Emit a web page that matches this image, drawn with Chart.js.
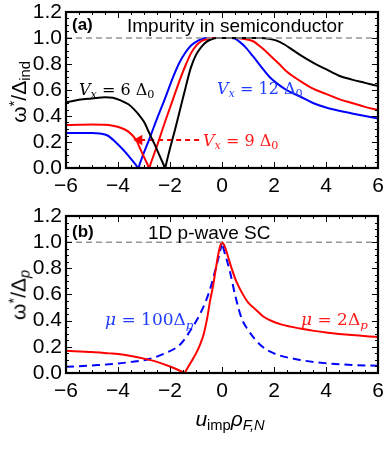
<!DOCTYPE html>
<html>
<head>
<meta charset="utf-8">
<script src="https://cdn.jsdelivr.net/npm/chart.js@4.4.0/dist/chart.umd.min.js"></script>
<style>
html, body { margin: 0; padding: 0; background: #fff; }
#wrap { position: relative; width: 388px; height: 449px; font-family: 'Liberation Sans', Arial, sans-serif; color: #000; }
.box { position: absolute; left: 0; width: 388px; }
.t { position: absolute; white-space: nowrap; line-height: 1; }
.m { font-family: 'DejaVu Serif', 'Liberation Serif', serif; }
sub { font-size: 0.7em; vertical-align: -0.3em; line-height: 0; }
sup { font-size: 0.7em; vertical-align: 0.45em; line-height: 0; }
.rot { transform: translate(-50%, -50%) rotate(-90deg); }
.ctr { transform: translate(-50%, -50%); }
</style>
</head>
<body>
<div id="wrap">
  <div class="box" style="top:0;height:200px"><canvas id="chartA"></canvas></div>
  <div class="box" style="top:204px;height:245px"><canvas id="chartB"></canvas></div>

  <!-- panel (a) texts -->
  <div class="t" style="left:72px;top:16px;font-size:17px;font-weight:bold">(a)</div>
  <div class="t" style="left:127px;top:16px;font-size:19px">Impurity in semiconductor</div>
  <div class="t m" style="left:79px;top:82px;font-size:16px;color:#000"><i>V<sub>x</sub></i> = 6 Δ<sub>0</sub></div>
  <div class="t m" style="left:217px;top:81px;font-size:16px;color:#1f3dff"><i>V<sub>x</sub></i> = 12 Δ<sub>0</sub></div>
  <div class="t m" style="left:203px;top:133px;font-size:16px;color:#ff1a1a"><i>V<sub>x</sub></i> = 9 Δ<sub>0</sub></div>
  <div class="t rot" style="left:18px;top:92px;font-size:21px">ω<sup>*</sup>/Δ<sub>ind</sub></div>

  <!-- panel (b) texts -->
  <div class="t" style="left:72px;top:223px;font-size:17px;font-weight:bold">(b)</div>
  <div class="t" style="left:148px;top:223px;font-size:19px">1D p-wave SC</div>
  <div class="t m" style="left:105px;top:311px;font-size:17px;color:#1f3dff"><i>μ</i> = 100Δ<sub><i>p</i></sub></div>
  <div class="t m" style="left:301px;top:311px;font-size:17px;color:#ff1a1a"><i>μ</i> = 2Δ<sub><i>p</i></sub></div>
  <div class="t rot" style="left:18px;top:295px;font-size:21px">ω<sup>*</sup>/Δ<sub><i>p</i></sub></div>
  <div class="t ctr" style="left:230px;top:418px;font-size:21px"><i>u</i><sub>imp</sub><i>ρ</i><sub><i>F,N</i></sub></div>
</div>

<script>
// axis ticks
var xTicks = [-6, -4, -2, 0, 2, 4, 6];
var yTicks = [0, 0.2, 0.4, 0.6, 0.8, 1.0, 1.2];

// (a) impurity in semiconductor, Vx = 6, 9, 12 Delta_0
var vx6X  = [-6, -5.5, -5, -4.5, -4.2, -3.9, -3.6, -3.4, -3.2, -3.0, -2.8, -2.6, -2.4, -2.25, -2.19, -2.13, -2.0, -1.8, -1.6, -1.4, -1.2, -1.0, -0.8, -0.6, -0.4, -0.2, 0, 0.5, 1.0, 1.5, 1.8, 2.1, 2.4, 2.7, 3.0, 3.5, 4.0, 4.5, 5.0, 5.5, 6.0];
var vx6Y  = [0.505, 0.525, 0.535, 0.544, 0.54, 0.52, 0.49, 0.455, 0.41, 0.355, 0.27, 0.185, 0.095, 0.027, 0, 0.047, 0.15, 0.3, 0.46, 0.62, 0.77, 0.87, 0.93, 0.97, 0.99, 1.0, 1.0, 1.0, 1.0, 1.0, 0.995, 0.98, 0.95, 0.91, 0.87, 0.81, 0.76, 0.71, 0.68, 0.655, 0.63];

var vx9X  = [-6, -5.5, -5, -4.5, -4.2, -3.9, -3.6, -3.3, -3.15, -3.0, -2.86, -2.8, -2.74, -2.5, -2.2, -1.9, -1.6, -1.38, -1.2, -1.0, -0.8, -0.6, -0.4, 0, 0.5, 0.8, 1.2, 1.5, 1.83, 2.2, 2.5, 3.0, 3.5, 4.0, 4.5, 5.0, 5.5, 6.0];
var vx9Y  = [0.33, 0.333, 0.335, 0.333, 0.325, 0.31, 0.28, 0.215, 0.15, 0.085, 0.025, 0, 0.035, 0.17, 0.35, 0.52, 0.69, 0.8, 0.88, 0.94, 0.975, 0.99, 1.0, 1.0, 1.0, 0.995, 0.975, 0.93, 0.87, 0.8, 0.74, 0.67, 0.61, 0.57, 0.53, 0.5, 0.47, 0.445];

var vx12X = [-6, -5.5, -5, -4.7, -4.4, -4.1, -3.8, -3.57, -3.4, -3.28, -3.22, -3.16, -3.0, -2.8, -2.5, -2.2, -1.9, -1.64, -1.4, -1.2, -1.0, -0.8, -0.6, 0, 0.35, 0.5, 0.68, 0.9, 1.19, 1.5, 1.83, 2.15, 2.48, 3.0, 3.5, 4.0, 4.5, 5.0, 5.5, 6.0];
var vx12Y = [0.27, 0.27, 0.27, 0.265, 0.25, 0.2, 0.14, 0.087, 0.045, 0.015, 0, 0.033, 0.12, 0.22, 0.38, 0.53, 0.69, 0.81, 0.89, 0.94, 0.97, 0.99, 1.0, 1.0, 1.0, 0.995, 0.97, 0.93, 0.86, 0.78, 0.7, 0.645, 0.6, 0.55, 0.5, 0.465, 0.44, 0.42, 0.4, 0.38];

// red dashed arrow pointing to the Vx = 9 curve
var arrowX = [-0.88, -3.18];
var arrowY = [0.215, 0.215];

// (b) 1D p-wave SC, mu = 2 and 100 Delta_p
var mu2X   = [-6, -5, -4.33, -4, -3.5, -3, -2.5, -2.0, -1.7, -1.5, -1.44, -1.38, -1.2, -1.0, -0.86, -0.7, -0.55, -0.47, -0.35, -0.25, -0.15, -0.07, 0, 0.1, 0.2, 0.37, 0.55, 0.75, 1.0, 1.27, 1.6, 2.0, 2.3, 3.0, 3.6, 4.0, 5.0, 6.0];
var mu2Y   = [0.17, 0.16, 0.15, 0.145, 0.13, 0.11, 0.085, 0.05, 0.025, 0.006, 0, 0.02, 0.08, 0.15, 0.21, 0.3, 0.44, 0.54, 0.66, 0.78, 0.9, 0.97, 1.0, 0.97, 0.91, 0.8, 0.7, 0.62, 0.54, 0.49, 0.43, 0.39, 0.37, 0.34, 0.32, 0.31, 0.29, 0.275];

var mu100X = [-6, -5, -4, -3.5, -2.8, -2.2, -1.6, -1.2, -0.9, -0.6, -0.4, -0.2, -0.1, -0.04, 0, 0.04, 0.1, 0.3, 0.5, 0.75, 1.0, 1.5, 2.0, 3.0, 4.0, 5.0, 6.0];
var mu100Y = [0.047, 0.058, 0.072, 0.085, 0.107, 0.15, 0.22, 0.33, 0.43, 0.56, 0.68, 0.83, 0.91, 0.96, 1.0, 0.965, 0.92, 0.78, 0.6, 0.42, 0.33, 0.21, 0.15, 0.1, 0.075, 0.062, 0.055];

var refX = [-6, 6];
var refY = [1, 1];

var RED = 'rgb(255,0,0)';
var BLUE = 'rgb(0,0,255)';
var GRAY = 'rgb(150,150,150)';

function pts(xs, ys) {
    return xs.map(function (x, i) { return { x: x, y: ys[i] }; });
}

// box frame with inward ticks on all four sides
var frame = {
    id: 'frame',
    afterDatasetsDraw: function (chart) {
        var ctx = chart.ctx, a = chart.chartArea;
        var xs = chart.scales.x, ys = chart.scales.y;
        ctx.save();
        ctx.strokeStyle = '#000';
        ctx.lineWidth = 1;
        ctx.beginPath();
        for (var v = -6; v <= 6.0001; v += 0.5) {
            var px = Math.round(xs.getPixelForValue(v)) + 0.5;
            var len = xTicks.indexOf(Math.round(v * 10) / 10) >= 0 ? 6 : 3;
            ctx.moveTo(px, a.bottom); ctx.lineTo(px, a.bottom - len);
            ctx.moveTo(px, a.top); ctx.lineTo(px, a.top + len);
        }
        for (var k = 0; k <= 24; k++) {
            var py = Math.round(ys.getPixelForValue(k * 0.05)) + 0.5;
            var l2 = (k % 4 === 0) ? 6 : 3;
            ctx.moveTo(a.left, py); ctx.lineTo(a.left + l2, py);
            ctx.moveTo(a.right, py); ctx.lineTo(a.right - l2, py);
        }
        ctx.stroke();
        ctx.lineWidth = 2.2;
        ctx.strokeRect(a.left, a.top, a.right - a.left, a.bottom - a.top);
        ctx.restore();
    }
};

function makeChart(id, datasets, xAxisHeight) {
    return new Chart(document.getElementById(id), {
        type: 'line',
        data: { datasets: datasets },
        options: {
            responsive: true,
            maintainAspectRatio: false,
            animation: false,
            layout: { padding: { top: 12, right: 10, left: 0, bottom: 0 } },
            plugins: { legend: { display: false }, tooltip: { enabled: false } },
            elements: { point: { radius: 0 }, line: { cubicInterpolationMode: 'monotone', borderWidth: 2 } },
            scales: {
                x: {
                    type: 'linear', min: -6, max: 6,
                    grid: { display: false, drawTicks: false },
                    border: { display: false },
                    afterBuildTicks: function (s) { s.ticks = xTicks.map(function (v) { return { value: v }; }); },
                    afterFit: function (s) { s.height = xAxisHeight; s.paddingLeft = 0; s.paddingRight = 0; },
                    ticks: {
                        padding: 6, color: '#000', maxRotation: 0, autoSkip: false,
                        font: { size: 21, family: 'Liberation Sans' },
                        callback: function (v) { return v < 0 ? '\u2212' + Math.abs(v) : String(v); }
                    }
                },
                y: {
                    type: 'linear', min: 0, max: 1.2,
                    grid: { display: false, drawTicks: false },
                    border: { display: false },
                    afterBuildTicks: function (s) { s.ticks = yTicks.map(function (v) { return { value: v }; }); },
                    afterFit: function (s) { s.width = 66; s.paddingTop = 0; s.paddingBottom = 0; },
                    ticks: {
                        padding: 4, color: '#000', autoSkip: false,
                        font: { size: 21, family: 'Liberation Sans' },
                        callback: function (v) { return v.toFixed(1); }
                    }
                }
            }
        },
        plugins: [frame]
    });
}

makeChart('chartA', [
    { data: pts(refX, refY), borderColor: GRAY, borderWidth: 1.5, borderDash: [6, 4] },
    { data: pts(vx6X, vx6Y), borderColor: '#000' },
    { data: pts(vx9X, vx9Y), borderColor: RED },
    { data: pts(vx12X, vx12Y), borderColor: BLUE },
    {
        data: pts(arrowX, arrowY), borderColor: RED, borderDash: [5, 4],
        pointRadius: [0, 6], pointStyle: 'triangle', pointRotation: -90,
        pointBackgroundColor: RED, pointBorderWidth: 0
    }
], 32);

makeChart('chartB', [
    { data: pts(refX, refY), borderColor: GRAY, borderWidth: 1.5, borderDash: [6, 4] },
    { data: pts(mu2X, mu2Y), borderColor: RED },
    { data: pts(mu100X, mu100Y), borderColor: BLUE, borderDash: [8, 5] }
], 76);
</script>
</body>
</html>
